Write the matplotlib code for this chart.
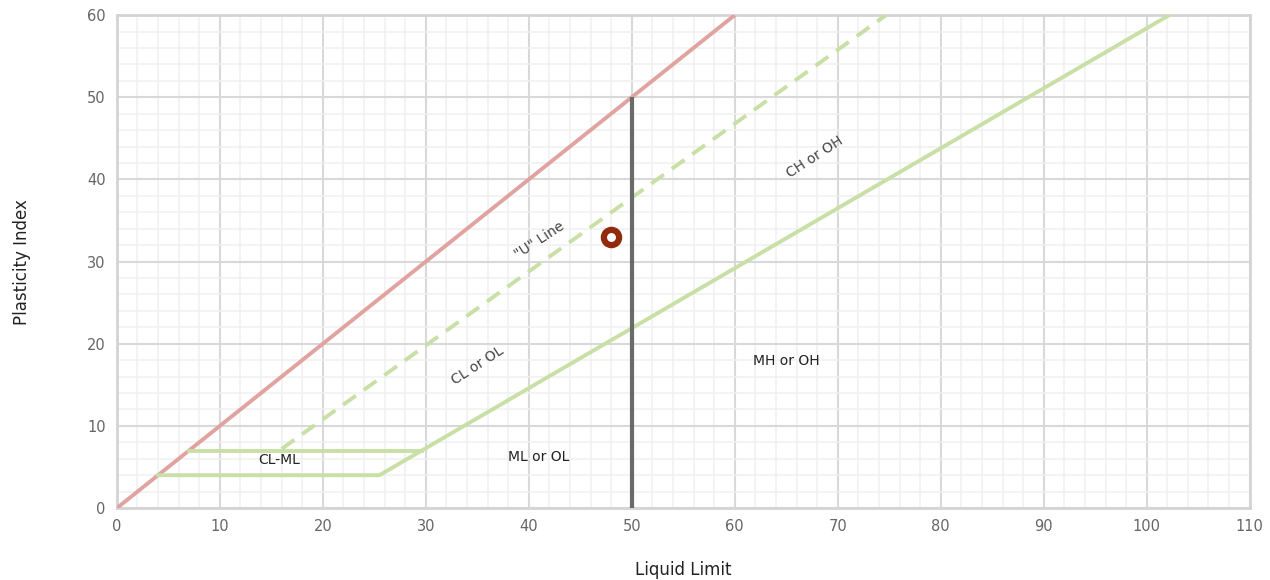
import matplotlib.pyplot as plt
from matplotlib.ticker import MultipleLocator

# boundary lines of the plasticity chart (liquid limit, plasticity index)
ll_equal = [0, 60]
pi_equal = [0, 60]

ll_u_line = [16, 74.7]
pi_u_line = [7.2, 60]

ll_a_line = [4, 25.5, 29.6, 102.2]
pi_a_line = [4, 4, 7, 60]

ll_cl_ml = [7, 29.6]
pi_cl_ml = [7, 7]

ll_split = [50, 50]
pi_split = [0, 50]

# sample point
sample_ll = [48]
sample_pi = [33]

zone_labels = ["CL-ML", "ML or OL", "MH or OH"]
zone_ll = [15.8, 41, 65]
zone_pi = [5.8, 6.2, 17.9]

slanted_labels = ['"U" Line', "CL or OL", "CH or OH"]
slanted_ll = [41, 35, 67.8]
slanted_pi = [32.6, 17.4, 42.7]

fig = plt.figure(figsize=(12.7, 5.8), dpi=100)
ax = fig.add_axes([0.092, 0.124, 0.892, 0.850])

ax.plot(ll_equal, pi_equal, color="#e0a3a0", lw=2.8, solid_capstyle="butt", zorder=3)
ax.plot(ll_u_line, pi_u_line, color="#c8dfa6", lw=2.8, ls=(0, (4, 2.5)), zorder=3)
ax.plot(ll_a_line, pi_a_line, color="#c8dfa6", lw=2.8, zorder=3)
ax.plot(ll_cl_ml, pi_cl_ml, color="#c8dfa6", lw=2.8, zorder=3)
ax.plot(ll_split, pi_split, color="#6a6a6a", lw=3, solid_capstyle="butt", zorder=3)
ax.plot(sample_ll, sample_pi, "o", ms=11, mfc="white", mec="#922b0c", mew=4.5, zorder=5)

for lab, x, y in zip(zone_labels, zone_ll, zone_pi):
    ax.text(x, y, lab, ha="center", va="center", fontsize=10, color="#222222")
for lab, x, y in zip(slanted_labels, slanted_ll, slanted_pi):
    ax.text(x, y, lab, ha="center", va="center", fontsize=10, color="#444444",
            rotation=33, rotation_mode="anchor")

ax.set_xlim(0, 110)
ax.set_ylim(0, 60)
ax.xaxis.set_major_locator(MultipleLocator(10))
ax.yaxis.set_major_locator(MultipleLocator(10))
ax.xaxis.set_minor_locator(MultipleLocator(2))
ax.yaxis.set_minor_locator(MultipleLocator(2))
ax.grid(which="major", color="#d9d9d9", lw=1.5)
ax.grid(which="minor", color="#f0f0f0", lw=1.1)
ax.set_axisbelow(True)
ax.tick_params(which="both", length=0)
ax.tick_params(axis="both", labelsize=10.5, labelcolor="#666666", pad=8)

for side in ["left", "bottom", "top", "right"]:
    ax.spines[side].set_color("#d4d4d4")
    ax.spines[side].set_linewidth(2)

ax.set_xlabel("Liquid Limit", fontsize=12, color="#222222", labelpad=19)
ax.set_ylabel("Plasticity Index", fontsize=12, color="#222222", labelpad=40)

fig.savefig("out.png", dpi=100)
